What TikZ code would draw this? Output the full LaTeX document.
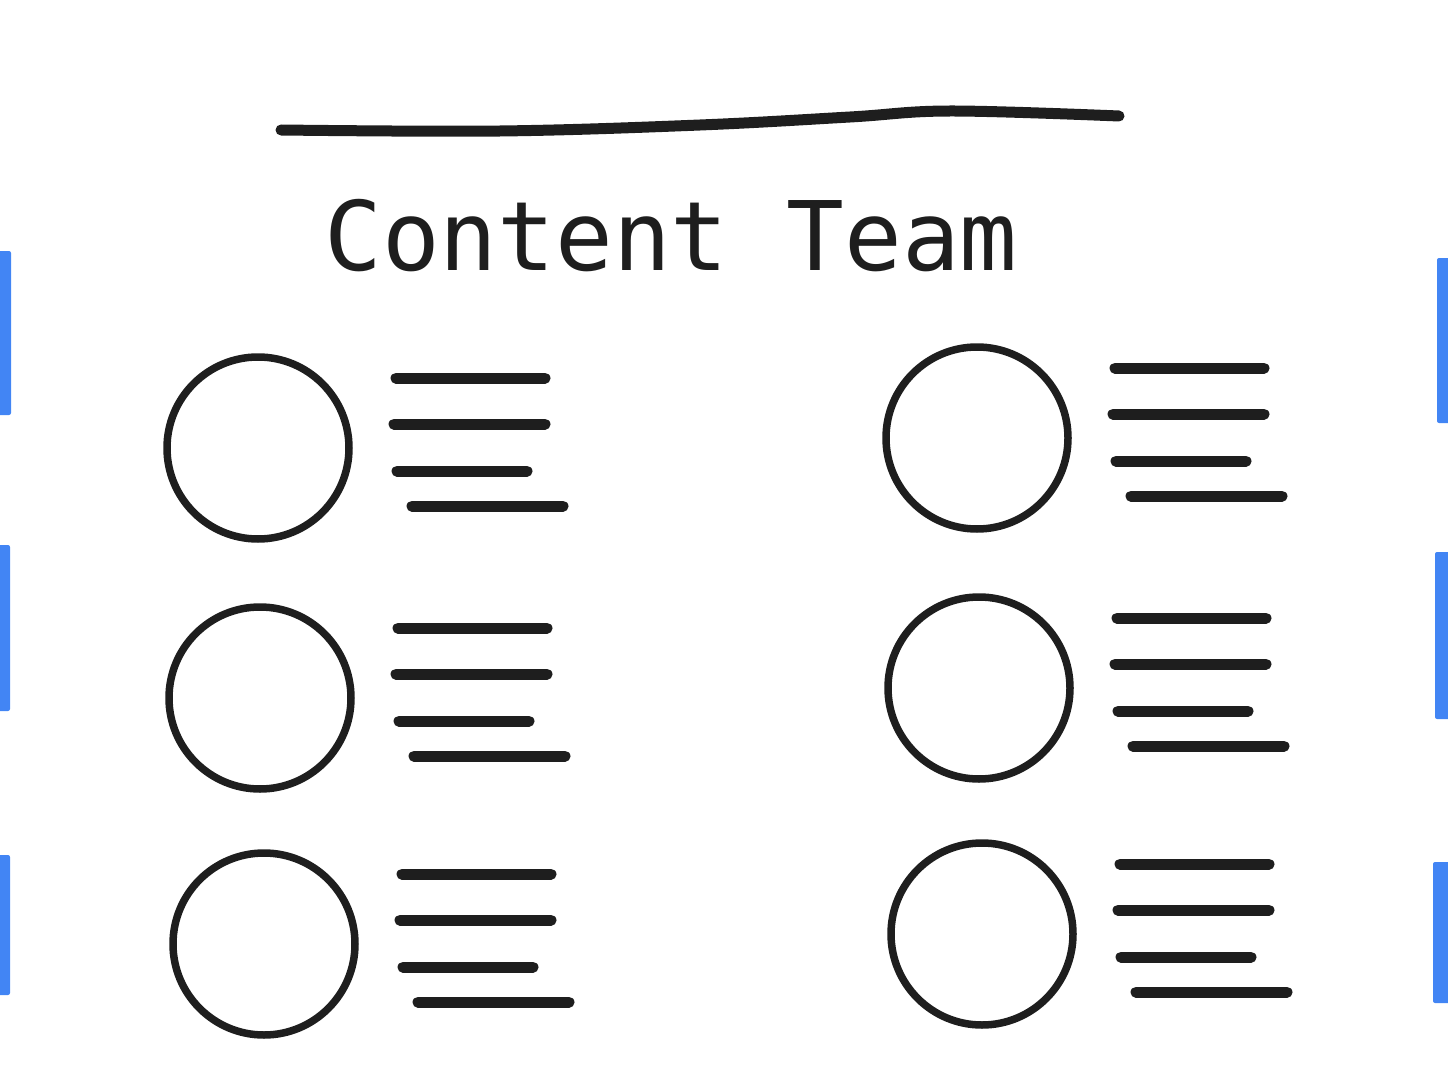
\documentclass[tikz,border=0pt]{standalone}
\usepackage{fontspec}
\setmonofont{DejaVu Sans Mono}
\definecolor{ink}{HTML}{1E1E1E}
\definecolor{tabblue}{HTML}{4285F4}
\tikzset{
  stroke/.style={ink, line width=11pt, line cap=round},
  face/.style={circle, draw=ink, line width=7.5pt, minimum size=182pt, inner sep=0pt},
  tab/.style={fill=tabblue, rounded corners=2pt}
}
\begin{document}
\begin{tikzpicture}[x=1pt, y=-1pt]
			\useasboundingbox (0,0) rectangle (1448,1086);
			
			%top stroke
			\draw[stroke] plot[smooth, tension=0.6] coordinates {(281,130) (500,131) (700,125) (850,117) (950,111) (1119,116)};
			
			%title
			\node[font=\ttfamily\fontsize{96}{110}\selectfont, anchor=base, ink] (title) at (671,270){Content Team};
			
			%side tabs
			\fill[tab] (-5,251) rectangle (11,415);
			\fill[tab] (-5,545) rectangle (10,711);
			\fill[tab] (-5,855) rectangle (10,995);
			\fill[tab] (1437,258) rectangle (1453,423);
			\fill[tab] (1435,552) rectangle (1453,719);
			\fill[tab] (1433,862) rectangle (1453,1003);
			
			%members
			\foreach \n/\cx/\cy in {1/258/448, 2/260/698, 3/264/944, 4/977/438, 5/979/688, 6/982/934}{
				\begin{scope}[shift={(\cx,\cy)}]
					\node[face] (face\n) at (0,0){};
					\draw[stroke] (138,-70) -- (287,-70);
					\draw[stroke] (136,-24) -- (287,-24);
					\draw[stroke] (139,23) -- (269,23);
					\draw[stroke] (154,58) -- (305,58);
				\end{scope}
			}
		\end{tikzpicture}
\end{document}
